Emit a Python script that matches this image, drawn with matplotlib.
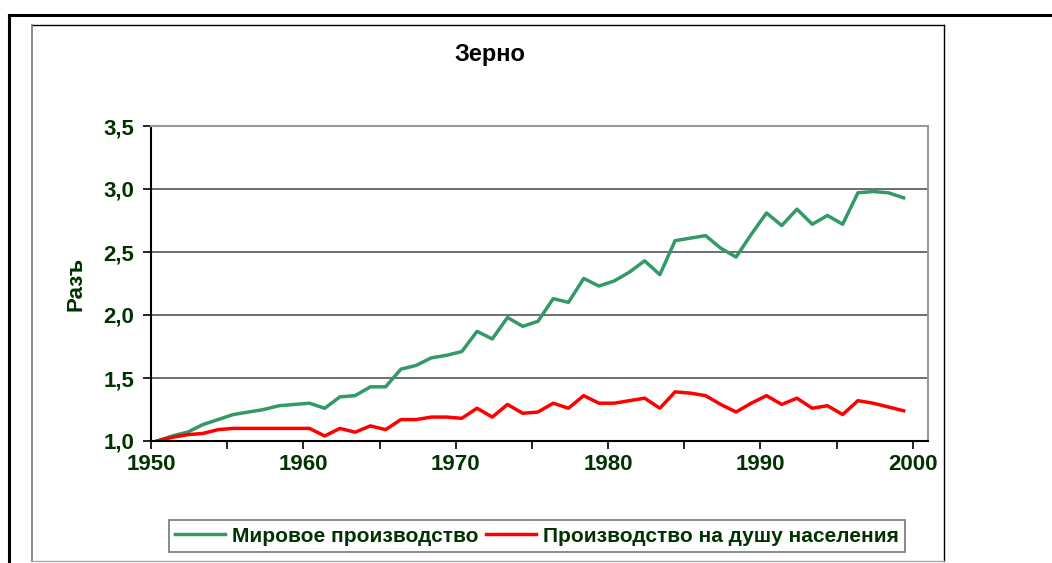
import numpy as np
import matplotlib.pyplot as plt
from matplotlib.lines import Line2D

plt.rcParams['font.family'] = ['Liberation Sans', 'DejaVu Sans']

years = np.arange(1950, 2000)

# Мировое производство
world = [1.00, 1.04, 1.07, 1.13, 1.17, 1.21, 1.23, 1.25, 1.28, 1.29,
         1.30, 1.26, 1.35, 1.36, 1.43, 1.43, 1.57, 1.60, 1.66, 1.68,
         1.71, 1.87, 1.81, 1.98, 1.91, 1.95, 2.13, 2.10, 2.29, 2.23,
         2.27, 2.34, 2.43, 2.32, 2.59, 2.61, 2.63, 2.53, 2.46, 2.64,
         2.81, 2.71, 2.84, 2.72, 2.79, 2.72, 2.97, 2.98, 2.97, 2.93]

# Производство на душу населения
per_capita = [1.00, 1.03, 1.05, 1.06, 1.09, 1.10, 1.10, 1.10, 1.10, 1.10,
              1.10, 1.04, 1.10, 1.07, 1.12, 1.09, 1.17, 1.17, 1.19, 1.19,
              1.18, 1.26, 1.19, 1.29, 1.22, 1.23, 1.30, 1.26, 1.36, 1.30,
              1.30, 1.32, 1.34, 1.26, 1.39, 1.38, 1.36, 1.29, 1.23, 1.30,
              1.36, 1.29, 1.34, 1.26, 1.28, 1.21, 1.32, 1.30, 1.27, 1.24]

y_ticks = [1.0, 1.5, 2.0, 2.5, 3.0, 3.5]
x_labels = [1950, 1960, 1970, 1980, 1990, 2000]

W, H = 1052, 563
fig = plt.figure(figsize=(W / 100, H / 100), dpi=100)

def fx(px):
    return px / W

def fy(py):
    return 1 - py / H

# outer frame
fig.add_artist(Line2D([fx(9), 1], [fy(15), fy(15)], color='black', lw=2.2))
fig.add_artist(Line2D([fx(9), fx(9)], [fy(15), 0], color='black', lw=2.2))
# inner chart frame
fig.add_artist(Line2D([fx(32), fx(944)], [fy(25), fy(25)], color='black', lw=1))
fig.add_artist(Line2D([fx(32), fx(32)], [fy(25), fy(561)], color='#777777', lw=1.2))
fig.add_artist(Line2D([fx(944), fx(944)], [fy(25), fy(561)], color='black', lw=1))
fig.add_artist(Line2D([fx(32), fx(944)], [fy(561), fy(561)], color='#aaaaaa', lw=1))

ax = fig.add_axes([fx(151), fy(441), (928 - 151) / W, (441 - 126) / H])

green = '#339966'
red = '#ff0000'
dark = '#003300'

x = years + 0.4
ax.plot(x, world, color=green, lw=2.5, label='Мировое производство')
ax.plot(x, per_capita, color=red, lw=2.5, label='Производство на душу населения')

ax.set_xlim(1950, 2001)
ax.set_ylim(1.0, 3.5)
ax.set_yticks(y_ticks)
ax.set_yticklabels([f'{v:.1f}'.replace('.', ',') for v in y_ticks])
ax.set_xticks(np.arange(1950, 2001, 5))
ax.set_xticklabels([str(v) if v in x_labels else '' for v in range(1950, 2001, 5)])

ax.yaxis.grid(True, color='#555555', lw=1.2)
ax.set_axisbelow(True)
for s in ['top', 'right']:
    ax.spines[s].set_color('#999999')
    ax.spines[s].set_linewidth(1.5)
ax.spines['left'].set_linewidth(1.5)
ax.spines['bottom'].set_linewidth(1.5)

ax.tick_params(axis='both', direction='out', length=6, width=1.2, colors='black')
for lbl in ax.get_xticklabels() + ax.get_yticklabels():
    lbl.set_fontsize(16)
    lbl.set_fontweight('bold')
    lbl.set_color(dark)
ax.tick_params(axis='y', pad=6)
ax.tick_params(axis='x', pad=3)

ax.set_ylabel('Разъ', fontsize=16, fontweight='bold', color=dark, labelpad=12)

fig.text(fx(490), fy(55), 'Зерно', ha='center', va='center',
         fontsize=17, fontweight='bold', color='black')

leg = fig.legend(loc='center', bbox_to_anchor=(fx(537), fy(536)), ncol=2,
                 frameon=True, fancybox=False, edgecolor='#555555',
                 prop={'size': 15, 'weight': 'bold'}, handlelength=2.4,
                 handletextpad=0.3, columnspacing=0.4, borderpad=0.3)
leg.get_frame().set_linewidth(1.2)
for t in leg.get_texts():
    t.set_color(dark)

fig.savefig('out.png', dpi=100)
